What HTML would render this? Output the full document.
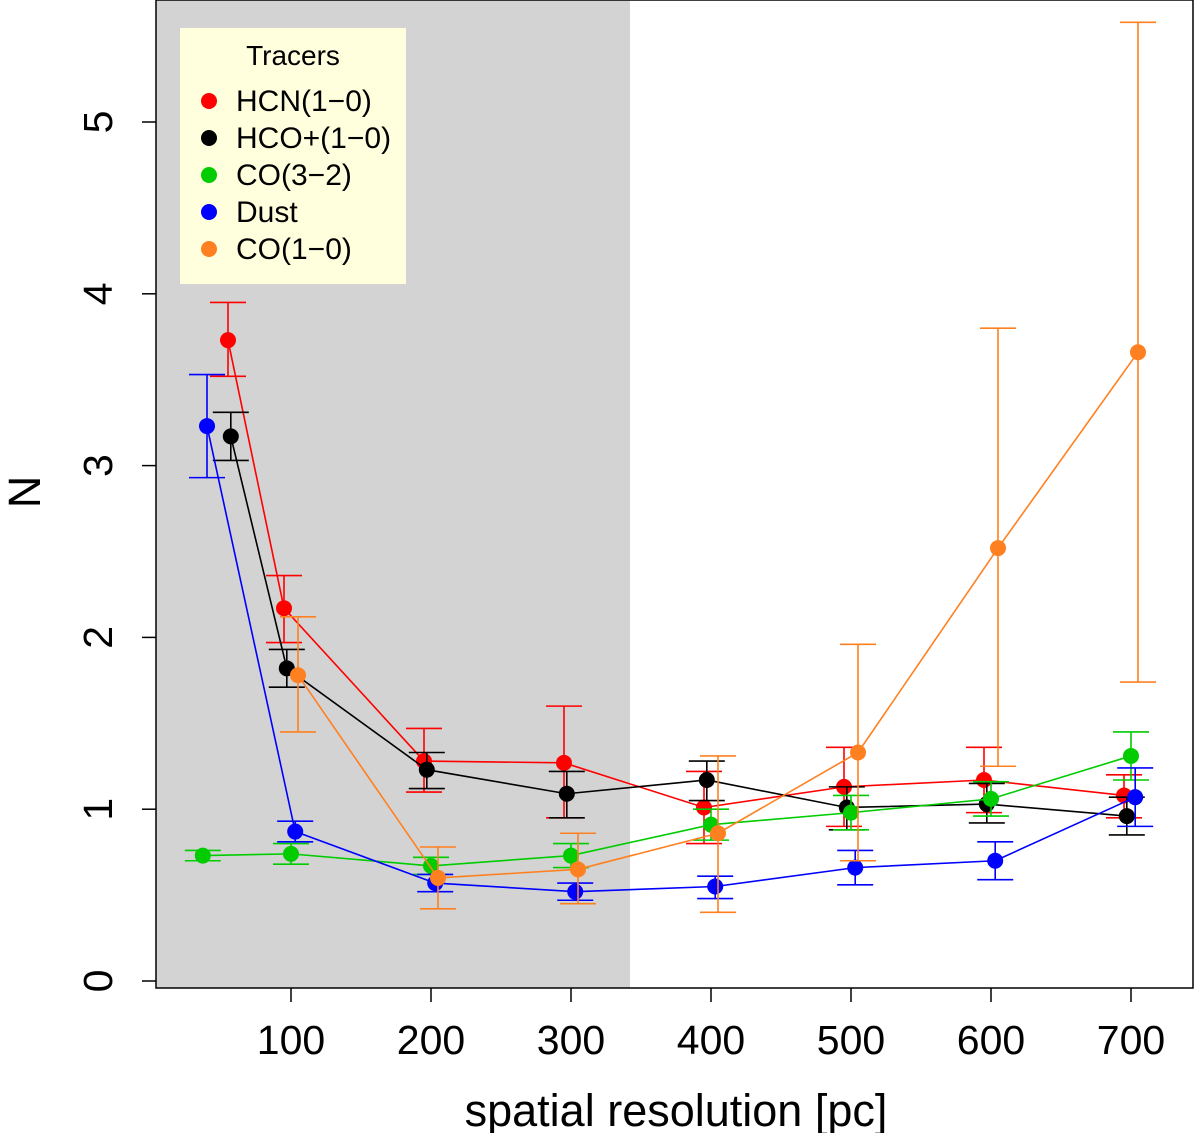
<!DOCTYPE html>
<html><head><meta charset="utf-8"><style>body{margin:0;background:#fff}svg text{font-family:"Liberation Sans",Arial,sans-serif}</style></head>
<body>
<svg id="chart" width="1200" height="1133" xmlns="http://www.w3.org/2000/svg">
<rect x="156" y="0" width="474" height="988" fill="#d3d3d3"/>
<g id="series"></g>
<rect x="156" y="0" width="1037" height="988" fill="none" stroke="#000" stroke-width="1.5"/>
<g id="axes"></g>
<text x="676" y="1126" font-size="45" text-anchor="middle">spatial resolution [pc]</text>
<text transform="translate(40,492) rotate(-90)" font-size="45" text-anchor="middle">N</text>
<g>
<rect x="180" y="28" width="226" height="256" fill="#ffffdd"/>
<text x="293" y="65" font-size="28" text-anchor="middle">Tracers</text>
<g id="legend-entries"></g>
</g>
</svg>
<script>
const NS="http://www.w3.org/2000/svg";
const names=["HCN(1\u22120)","HCO+(1\u22120)","CO(3\u22122)","Dust","CO(1\u22120)"];
const colors=["#ff0000","#000000","#00cc00","#0000ff","#ff8020"];
const xHCN=[55,95,195,295,395,495,595,695];
const yHCN=[3.73,2.17,1.28,1.27,1.01,1.13,1.17,1.08];
const hiHCN=[3.95,2.36,1.47,1.60,1.22,1.36,1.36,1.20];
const loHCN=[3.52,1.97,1.10,0.95,0.80,0.90,0.98,0.95];
const xHCO=[57,97,197,297,397,497,597,697];
const yHCO=[3.17,1.82,1.23,1.09,1.17,1.01,1.03,0.96];
const hiHCO=[3.31,1.93,1.33,1.22,1.28,1.13,1.15,1.07];
const loHCO=[3.03,1.71,1.12,0.95,1.05,0.88,0.92,0.85];
const xCO32=[37,100,200,300,400,500,600,700];
const yCO32=[0.73,0.74,0.67,0.73,0.91,0.98,1.06,1.31];
const hiCO32=[0.76,0.80,0.72,0.80,1.00,1.08,1.16,1.45];
const loCO32=[0.70,0.68,0.62,0.66,0.82,0.88,0.96,1.17];
const xDust=[40,103,203,303,403,503,603,703];
const yDust=[3.23,0.87,0.57,0.52,0.55,0.66,0.70,1.07];
const hiDust=[3.53,0.93,0.62,0.57,0.61,0.76,0.81,1.24];
const loDust=[2.93,0.81,0.52,0.47,0.48,0.56,0.59,0.90];
const xCO10=[105,205,305,405,505,605,705];
const yCO10=[1.78,0.60,0.65,0.86,1.33,2.52,3.66];
const hiCO10=[2.12,0.78,0.86,1.31,1.96,3.80,5.58];
const loCO10=[1.45,0.42,0.45,0.40,0.70,1.25,1.74];
const xTicks=[100,200,300,400,500,600,700];
const yTicks=[0,1,2,3,4,5];
const X=v=>151+1.4*v, Y=v=>981-171.8*v;
const series=[[xHCN,yHCN,hiHCN,loHCN],[xHCO,yHCO,hiHCO,loHCO],[xCO32,yCO32,hiCO32,loCO32],[xDust,yDust,hiDust,loDust],[xCO10,yCO10,hiCO10,loCO10]];
const sg=document.getElementById('series');
function mk(tag,at,parent){const e=document.createElementNS(NS,tag);for(const k in at)e.setAttribute(k,at[k]);parent.appendChild(e);return e;}
series.forEach((s,i)=>{
 const g=mk('g',{},sg);
 
 
 const c=colors[i];
 const pl=mk('polyline',{points:s[0].map((x,j)=>X(x)+','+Y(s[1][j])).join(' '),fill:'none',stroke:c,'stroke-width':1.6},g);
 
 
 s[0].forEach((x,j)=>{
  const px=X(x);
  const eb=mk('path',{d:`M${px},${Y(s[2][j])}V${Y(s[3][j])}M${px-18},${Y(s[2][j])}H${px+18}M${px-18},${Y(s[3][j])}H${px+18}`,stroke:c,'stroke-width':1.6,fill:'none'},g);
  
  
 });
 s[0].forEach((x,j)=>{
  const p=mk('circle',{cx:X(x),cy:Y(s[1][j]),r:8,fill:c},g);
  
  
 });
});
const ax=document.getElementById('axes');
xTicks.forEach(t=>{
 const l=mk('line',{x1:X(t),x2:X(t),y1:988,y2:1002,stroke:'#000','stroke-width':1.5},ax);
 
 
 const tx=mk('text',{x:X(t),y:1054,'font-size':41,'text-anchor':'middle'},ax);tx.textContent=t;
 
 
});
yTicks.forEach(t=>{
 const l=mk('line',{x1:142,x2:156,y1:Y(t),y2:Y(t),stroke:'#000','stroke-width':1.5},ax);
 
 
 const tx=mk('text',{transform:`translate(112,${Y(t)}) rotate(-90)`,'font-size':41,'text-anchor':'middle'},ax);tx.textContent=t;
 
 
});
const le=document.getElementById('legend-entries');
names.forEach((n,i)=>{
 const y=101+37*i;
 const c=mk('circle',{cx:209,cy:y,r:8,fill:colors[i]},le);
 
 
 const t=mk('text',{x:236,y:y+10,'font-size':30},le);t.textContent=n;
 
 
});
</script>
</body></html>
